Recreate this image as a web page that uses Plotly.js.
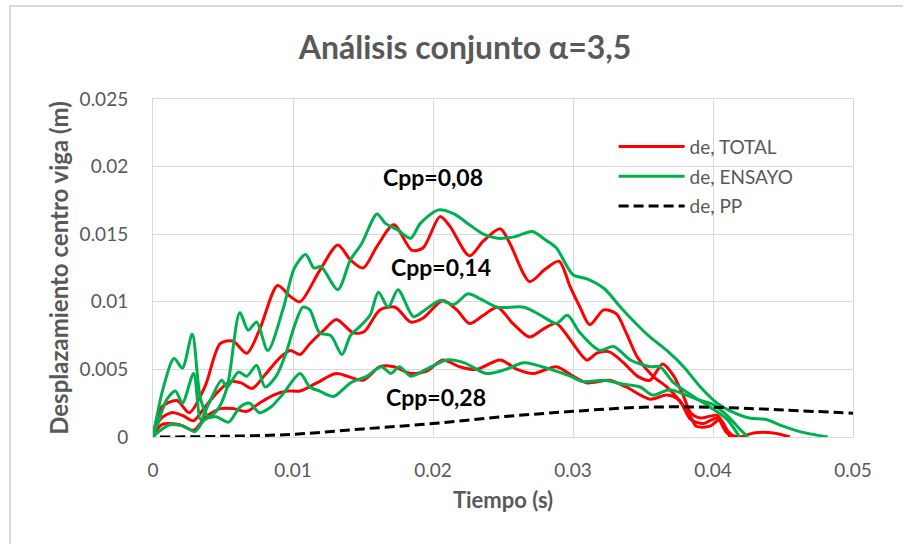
<!DOCTYPE html>
<html>
<head>
<meta charset="utf-8">
<script src="https://cdn.plot.ly/plotly-3.0.1.min.js"></script>
<style>
  html, body { margin: 0; padding: 0; background: #fff; }
  #wrap { position: relative; width: 903px; height: 544px; overflow: hidden; }
  #chart { width: 903px; height: 544px; }
  #frame { position: absolute; left: 9px; top: 5px; width: 1000px; height: 1000px;
           border: 2px solid #d9d9d9; box-sizing: border-box; pointer-events: none; }
</style>
</head>
<body>
<div id="wrap"><div id="chart"></div><div id="frame"></div></div>
<script>
// ---- data (tiempo in s, desplazamiento in m) ----
const t_R1 = [0, 0.0006, 0.0017, 0.0026, 0.0037, 0.0048, 0.0057, 0.0067, 0.0076, 0.0089, 0.0098, 0.0105, 0.0119, 0.0132, 0.0141, 0.0150, 0.0160, 0.0172, 0.0185, 0.0193, 0.0205, 0.0212, 0.0226, 0.0236, 0.0248, 0.0255, 0.0269, 0.0280, 0.0290, 0.0298, 0.0305, 0.0312, 0.0322, 0.0331, 0.0338, 0.0346, 0.0357, 0.0367, 0.0376, 0.0384, 0.0388, 0.0398, 0.0405, 0.0412];
const d_R1 = [0, 0.0022, 0.0027, 0.0018, 0.0037, 0.0069, 0.0071, 0.0062, 0.0079, 0.0112, 0.0104, 0.0100, 0.0123, 0.0142, 0.0131, 0.0125, 0.0141, 0.0157, 0.0138, 0.0140, 0.0163, 0.0156, 0.0134, 0.0145, 0.0154, 0.0143, 0.0115, 0.0124, 0.0130, 0.0111, 0.0096, 0.0083, 0.0094, 0.0091, 0.0077, 0.0059, 0.0045, 0.0037, 0.0027, 0.0015, 0.0008, 0.0008, 0.0013, 0];

const t_R2 = [0, 0.0005, 0.0013, 0.0021, 0.0029, 0.0037, 0.0046, 0.0055, 0.0063, 0.0071, 0.0080, 0.0090, 0.0098, 0.0105, 0.0112, 0.0122, 0.0131, 0.0143, 0.0151, 0.0162, 0.0173, 0.0184, 0.0193, 0.0207, 0.0217, 0.0226, 0.0236, 0.0246, 0.0257, 0.0269, 0.0279, 0.0288, 0.0298, 0.0310, 0.0317, 0.0326, 0.0336, 0.0346, 0.0355, 0.0364, 0.0372, 0.0379, 0.0384, 0.0391, 0.0403, 0.0410, 0.0415];
const d_R2 = [0, 0.0013, 0.0018, 0.0016, 0.0012, 0.0022, 0.0033, 0.0041, 0.0040, 0.0036, 0.0046, 0.0058, 0.0064, 0.0061, 0.0069, 0.0079, 0.0087, 0.0077, 0.0078, 0.0094, 0.0096, 0.0085, 0.0088, 0.0101, 0.0094, 0.0084, 0.0090, 0.0096, 0.0084, 0.0074, 0.0080, 0.0084, 0.0072, 0.0057, 0.0062, 0.0063, 0.0055, 0.0045, 0.0042, 0.0054, 0.0045, 0.0030, 0.0018, 0.0014, 0.0016, 0.0005, 0];

const t_R3 = [0, 0.0006, 0.0019, 0.0029, 0.0038, 0.0048, 0.0057, 0.0067, 0.0076, 0.0086, 0.0096, 0.0105, 0.0117, 0.0131, 0.0150, 0.0162, 0.0172, 0.0184, 0.0196, 0.0207, 0.0219, 0.0231, 0.0248, 0.0260, 0.0272, 0.0288, 0.0300, 0.0310, 0.0326, 0.0338, 0.0355, 0.0367, 0.0376, 0.0384, 0.0393, 0.0403, 0.0410, 0.0419, 0.0429, 0.0443, 0.0455];
const d_R3 = [0, 0.0009, 0.0009, 0.0005, 0.0015, 0.0021, 0.0021, 0.0019, 0.0025, 0.0031, 0.0034, 0.0034, 0.0040, 0.0047, 0.0042, 0.0052, 0.0052, 0.0047, 0.0049, 0.0057, 0.0052, 0.0050, 0.0057, 0.0050, 0.0047, 0.0052, 0.0045, 0.0040, 0.0042, 0.0037, 0.0028, 0.0031, 0.0027, 0.0013, 0.0010, 0.0014, 0.0003, 0.0000, 0.0003, 0.0003, 0];

const t_G1 = [0, 0.0007, 0.0015, 0.0021, 0.0028, 0.0034, 0.0040, 0.0046, 0.0053, 0.0062, 0.0068, 0.0074, 0.0082, 0.0093, 0.0101, 0.0109, 0.0115, 0.0120, 0.0132, 0.0141, 0.0149, 0.0160, 0.0166, 0.0175, 0.0184, 0.0191, 0.0204, 0.0215, 0.0226, 0.0236, 0.0246, 0.0258, 0.0271, 0.0280, 0.0288, 0.0300, 0.0310, 0.0322, 0.0334, 0.0343, 0.0355, 0.0367, 0.0379, 0.0391, 0.0403, 0.0415, 0.0426, 0.0438, 0.0450, 0.0462, 0.0482];
const d_G1 = [0, 0.0035, 0.0058, 0.0051, 0.0076, 0.0028, 0.0015, 0.0020, 0.0037, 0.0092, 0.0079, 0.0085, 0.0064, 0.0095, 0.0125, 0.0135, 0.0125, 0.0126, 0.0109, 0.0131, 0.0143, 0.0165, 0.0158, 0.0153, 0.0147, 0.0158, 0.0168, 0.0165, 0.0157, 0.0150, 0.0147, 0.0148, 0.0152, 0.0146, 0.0140, 0.0120, 0.0117, 0.0110, 0.0096, 0.0086, 0.0074, 0.0064, 0.0052, 0.0037, 0.0025, 0.0018, 0.0014, 0.0013, 0.0008, 0.0004, 0];

const t_G2 = [0, 0.0005, 0.0010, 0.0016, 0.0021, 0.0029, 0.0034, 0.0040, 0.0049, 0.0053, 0.0061, 0.0067, 0.0074, 0.0080, 0.0088, 0.0095, 0.0101, 0.0107, 0.0112, 0.0119, 0.0127, 0.0135, 0.0141, 0.0148, 0.0155, 0.0161, 0.0168, 0.0175, 0.0186, 0.0193, 0.0205, 0.0215, 0.0225, 0.0234, 0.0246, 0.0265, 0.0277, 0.0288, 0.0296, 0.0305, 0.0319, 0.0329, 0.0341, 0.0355, 0.0362, 0.0372, 0.0386, 0.0398, 0.0410, 0.0419];
const d_G2 = [0, 0.0015, 0.0028, 0.0034, 0.0025, 0.0047, 0.0013, 0.0025, 0.0042, 0.0037, 0.0048, 0.0045, 0.0053, 0.0037, 0.0045, 0.0062, 0.0082, 0.0096, 0.0094, 0.0077, 0.0075, 0.0061, 0.0075, 0.0082, 0.0090, 0.0107, 0.0096, 0.0109, 0.0089, 0.0093, 0.0101, 0.0098, 0.0106, 0.0102, 0.0096, 0.0096, 0.0090, 0.0084, 0.0090, 0.0077, 0.0064, 0.0067, 0.0057, 0.0052, 0.0052, 0.0040, 0.0030, 0.0022, 0.0013, 0];

const t_G3 = [0, 0.0003, 0.0012, 0.0022, 0.0030, 0.0037, 0.0045, 0.0054, 0.0062, 0.0069, 0.0076, 0.0084, 0.0093, 0.0105, 0.0112, 0.0119, 0.0129, 0.0141, 0.0153, 0.0163, 0.0170, 0.0176, 0.0184, 0.0195, 0.0210, 0.0222, 0.0238, 0.0252, 0.0265, 0.0284, 0.0298, 0.0307, 0.0322, 0.0336, 0.0348, 0.0357, 0.0369, 0.0381, 0.0391, 0.0400, 0.0410, 0.0419, 0.0425];
const d_G3 = [0, 0.0003, 0.0009, 0.0008, 0.0004, 0.0013, 0.0015, 0.0011, 0.0022, 0.0025, 0.0018, 0.0022, 0.0032, 0.0047, 0.0037, 0.0034, 0.0030, 0.0040, 0.0045, 0.0052, 0.0047, 0.0052, 0.0045, 0.0050, 0.0057, 0.0055, 0.0047, 0.0050, 0.0055, 0.0050, 0.0045, 0.0041, 0.0042, 0.0039, 0.0037, 0.0031, 0.0035, 0.0031, 0.0027, 0.0024, 0.0016, 0.0006, 0];

const t_PP = [0.0005, 0.005, 0.01, 0.015, 0.02, 0.025, 0.03, 0.035, 0.04, 0.045, 0.05];
const d_PP = [0, 0.00005, 0.0002, 0.0006, 0.0010, 0.0015, 0.0019, 0.0022, 0.0022, 0.0020, 0.00175];

const seriesNames = ['de, TOTAL', 'de, ENSAYO', 'de, PP'];
const xTickVals = [0, 0.01, 0.02, 0.03, 0.04, 0.05];
const xTickText = ['0', '0.01', '0.02', '0.03', '0.04', '0.05'];
const yTickVals = [0, 0.005, 0.01, 0.015, 0.02, 0.025];
const yTickText = ['0', '0.005', '0.01', '0.015', '0.02', '0.025'];
const cppLabels = ['Cpp=0,08', 'Cpp=0,14', 'Cpp=0,28'];
const cppX = [0.0200, 0.0206, 0.0202];
const cppY = [0.0192, 0.01255, 0.00295];

// ---- styling ----
const RED = '#ff0000', GREEN = '#00b050', FONT = 'Lato, "Open Sans", sans-serif', GREY = '#595959';
function line(x, y, color, name, group, show) {
  return { x: x, y: y, type: 'scatter', mode: 'lines', name: name, legendgroup: group,
           showlegend: show, hoverinfo: 'skip',
           line: { color: color, width: 3, shape: 'spline', smoothing: 0.8 } };
}
const traces = [
  line(t_R1, d_R1, RED, seriesNames[0], 'a', true),
  line(t_R2, d_R2, RED, seriesNames[0], 'a', false),
  line(t_R3, d_R3, RED, seriesNames[0], 'a', false),
  line(t_G1, d_G1, GREEN, seriesNames[1], 'b', true),
  line(t_G2, d_G2, GREEN, seriesNames[1], 'b', false),
  line(t_G3, d_G3, GREEN, seriesNames[1], 'b', false),
  { x: t_PP, y: d_PP, type: 'scatter', mode: 'lines', name: seriesNames[2], legendgroup: 'c',
    hoverinfo: 'skip', line: { color: '#000000', width: 3, dash: '10px,5px', shape: 'spline' } }
];

const layout = {
  width: 903, height: 544,
  margin: { l: 153, r: 50, t: 99, b: 107 },
  paper_bgcolor: 'rgba(0,0,0,0)', plot_bgcolor: '#ffffff',
  font: { family: FONT, color: GREY, size: 19 },
  title: { text: 'Análisis conjunto α=3,5', x: 0.515, xref: 'container', xanchor: 'center',
           y: 0.912, yref: 'container', yanchor: 'middle',
           font: { family: FONT, size: 32, color: GREY, weight: 'bold' } },
  xaxis: {
    range: [0, 0.05], tickvals: xTickVals, ticktext: xTickText,
    showgrid: true, gridcolor: '#d9d9d9', gridwidth: 1, zeroline: false,
    showline: true, linecolor: '#d9d9d9', linewidth: 1, mirror: true,
    ticks: '', ticklabelstandoff: 16, tickfont: { size: 19, color: GREY, family: FONT },
    title: { text: 'Tiempo (s)', standoff: 12, font: { size: 22, color: GREY, family: FONT, weight: 'bold' } }
  },
  yaxis: {
    range: [0, 0.025], tickvals: yTickVals, ticktext: yTickText,
    showgrid: true, gridcolor: '#d9d9d9', gridwidth: 1, zeroline: false,
    showline: true, linecolor: '#d9d9d9', linewidth: 1, mirror: true,
    ticks: '', ticklabelstandoff: 20, tickfont: { size: 19, color: GREY, family: FONT },
    title: { text: 'Desplazamiento centro viga (m)', standoff: 4, font: { size: 24, color: GREY, family: FONT, weight: 'bold' } }
  },
  showlegend: true,
  legend: { x: 0.658, y: 0.915, xanchor: 'left', yanchor: 'top', bgcolor: 'rgba(0,0,0,0)',
            traceorder: 'grouped', tracegroupgap: 2, itemwidth: 66,
            font: { family: FONT, size: 19, color: GREY } },
  annotations: cppLabels.map((s, i) => ({ x: cppX[i], y: cppY[i], xref: 'x', yref: 'y', text: s,
      showarrow: false, font: { family: FONT, size: 23, color: '#000000', weight: 'bold' } }))
};

Plotly.newPlot('chart', traces, layout, { staticPlot: true, displayModeBar: false });
</script>
</body>
</html>
